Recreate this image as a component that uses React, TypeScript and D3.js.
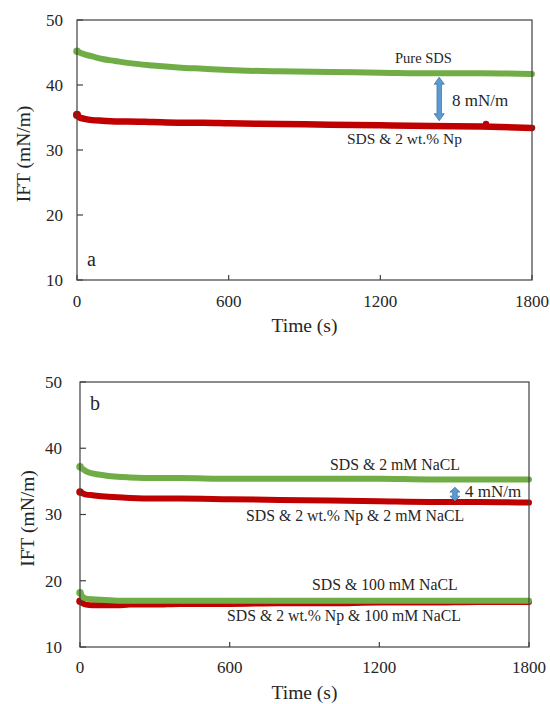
import React from "react";
import * as d3 from "d3";

// ---------- Data ----------
const xTicks = [0, 600, 1200, 1800];
const yTicks = [10, 20, 30, 40, 50];

// Panel a
const timeA = [0, 10, 30, 60, 100, 150, 200, 300, 400, 500, 600, 800, 1000, 1200, 1400, 1600, 1800];
const pureSDS = [45.2, 45.0, 44.7, 44.4, 44.0, 43.7, 43.4, 43.0, 42.7, 42.5, 42.3, 42.1, 42.0, 41.9, 41.8, 41.8, 41.7];
const sdsNp = [35.4, 35.0, 34.8, 34.6, 34.5, 34.4, 34.4, 34.3, 34.2, 34.2, 34.1, 34.0, 33.9, 33.8, 33.7, 33.6, 33.4];
const sdsNpOutlierT = [1618];
const sdsNpOutlierV = [34.0];

// Panel b
const timeB = [0, 10, 25, 50, 100, 150, 200, 300, 400, 600, 800, 1000, 1200, 1400, 1600, 1800];
const nacl2 = [37.2, 36.9, 36.5, 36.2, 35.9, 35.7, 35.6, 35.5, 35.5, 35.4, 35.4, 35.4, 35.4, 35.3, 35.3, 35.3];
const npNacl2 = [33.4, 33.2, 33.0, 32.9, 32.7, 32.6, 32.5, 32.4, 32.4, 32.3, 32.2, 32.1, 32.0, 31.9, 31.9, 31.8];
const nacl100 = [18.2, 17.6, 17.3, 17.2, 17.1, 17.0, 17.0, 17.0, 17.0, 17.0, 17.0, 17.0, 17.0, 17.0, 17.0, 17.0];
const npNacl100 = [16.9, 16.6, 16.4, 16.3, 16.3, 16.3, 16.4, 16.4, 16.5, 16.5, 16.6, 16.6, 16.7, 16.7, 16.8, 16.8];

// arrows: [time, top value, bottom value]
const arrowA = [1433, 41.2, 34.5];
const arrowB = [1503, 34.1, 32.05];

const GREEN = "#70AD47";
const RED = "#C00000";
const FONT = "Liberation Serif, Times New Roman, Tinos, DejaVu Serif, serif";
const AXIS = "#404040";

type Series = { t: number[]; v: number[]; color: string; w: number };
type Label = { text: string; x: number; y: number; size: number };

function T(props: any) {
  const { size, children, style, ...rest } = props;
  return (
    <text {...rest} fill="#262626" style={{ fontFamily: FONT, fontSize: size + "px", ...(style || {}) }}>
      {children}
    </text>
  );
}

function Panel(props: {
  x0: number; x1: number; y0: number; y1: number;
  series: Series[];
  letter: string; letterY: number;
  tickLabelY: number; yLabelRight: number; titleY: number; yTitleX: number;
  labels: Label[];
  arrow: number[];
  outliers?: { t: number[]; v: number[]; color: string };
}) {
  const { x0, x1, y0, y1 } = props;
  const xs = d3.scaleLinear().domain([0, 1800]).range([x0, x1]);
  const ys = d3.scaleLinear().domain([10, 50]).range([y1, y0]);
  const line = d3
    .line<[number, number]>()
    .x((d) => xs(d[0]))
    .y((d) => ys(d[1]))
    .curve(d3.curveMonotoneX);

  const [at, av1, av2] = props.arrow;
  const ax = xs(at);
  const ay1 = ys(av1);
  const ay2 = ys(av2);
  const len = ay2 - ay1;
  const head = Math.min(7, len * 0.35);
  const hw = 5;
  const sw = 2.2;
  const arrowPath = `M${ax},${ay1} L${ax + hw},${ay1 + head} L${ax + sw},${ay1 + head} L${ax + sw},${ay2 - head} L${ax + hw},${ay2 - head} L${ax},${ay2} L${ax - hw},${ay2 - head} L${ax - sw},${ay2 - head} L${ax - sw},${ay1 + head} L${ax - hw},${ay1 + head} Z`;

  return (
    <g>
      {props.series.map((s, i) => (
        <g key={i}>
          <path
            d={line(s.t.map((t, j) => [t, s.v[j]]) as [number, number][]) || ""}
            fill="none"
            stroke={s.color}
            strokeWidth={s.w}
            strokeLinecap="round"
            strokeLinejoin="round"
          />
          <circle cx={xs(s.t[0])} cy={ys(s.v[0])} r={s.w * 0.62} fill={s.color} />
        </g>
      ))}
      {props.outliers &&
        props.outliers.t.map((t, i) => (
          <circle key={i} cx={xs(t)} cy={ys(props.outliers!.v[i])} r={3.2} fill={props.outliers!.color} />
        ))}
      <rect x={x0} y={y0} width={x1 - x0} height={y1 - y0} fill="none" stroke={AXIS} strokeWidth={1.2} />
      {yTicks.map((t) => (
        <g key={"y" + t}>
          <line x1={x0} x2={x0 + 6} y1={ys(t)} y2={ys(t)} stroke={AXIS} strokeWidth={1.2} />
          <T x={props.yLabelRight} y={ys(t)} dy="0.34em" textAnchor="end" size={17}>
            {t}
          </T>
        </g>
      ))}
      {xTicks.map((t) => (
        <g key={"x" + t}>
          <line x1={xs(t)} x2={xs(t)} y1={y1} y2={y1 - 5} stroke={AXIS} strokeWidth={1.2} />
          <T x={xs(t)} y={props.tickLabelY} textAnchor="middle" size={17}>
            {t}
          </T>
        </g>
      ))}
      <T x={(x0 + x1) / 2} y={props.titleY} textAnchor="middle" size={19.5}>
        Time (s)
      </T>
      <T
        transform={`translate(${props.yTitleX},${(y0 + y1) / 2 + 4}) rotate(-90)`}
        textAnchor="middle"
        size={19.5}
      >
        IFT (mN/m)
      </T>
      <T x={x0 + 10} y={props.letterY} size={20}>
        {props.letter}
      </T>
      <path d={arrowPath} fill="#5B9BD5" stroke="#41719C" strokeWidth={0.8} />
      {props.labels.map((l, i) => (
        <T key={i} x={l.x} y={l.y} size={l.size}>
          {l.text}
        </T>
      ))}
    </g>
  );
}

export default function App() {
  return (
    <svg
      width={550}
      height={704}
      style={{ position: "absolute", left: 0, top: 0, background: "#fff" }}
    >
      <rect width={550} height={704} fill="#fff" />
      <Panel
        x0={77}
        x1={532}
        y0={20}
        y1={280}
        series={[
          { t: timeA, v: pureSDS, color: GREEN, w: 6 },
          { t: timeA, v: sdsNp, color: RED, w: 6.5 },
        ]}
        outliers={{ t: sdsNpOutlierT, v: sdsNpOutlierV, color: RED }}
        letter="a"
        letterY={266}
        tickLabelY={306.5}
        yLabelRight={63}
        titleY={332}
        yTitleX={30}
        arrow={arrowA}
        labels={[
          { text: "Pure SDS", x: 395, y: 63, size: 14.5 },
          { text: "8 mN/m", x: 452, y: 106, size: 17 },
          { text: "SDS & 2 wt.% Np", x: 347, y: 144, size: 15.5 },
        ]}
      />
      <Panel
        x0={80}
        x1={529}
        y0={382}
        y1={647}
        series={[
          { t: timeB, v: npNacl2, color: RED, w: 6 },
          { t: timeB, v: nacl2, color: GREEN, w: 6 },
          { t: timeB, v: npNacl100, color: RED, w: 6 },
          { t: timeB, v: nacl100, color: GREEN, w: 6 },
        ]}
        letter="b"
        letterY={410}
        tickLabelY={673}
        yLabelRight={62}
        titleY={699}
        yTitleX={34}
        arrow={arrowB}
        labels={[
          { text: "SDS & 2 mM NaCL", x: 330, y: 470, size: 15.8 },
          { text: "4 mN/m", x: 465, y: 497, size: 17 },
          { text: "SDS & 2 wt.% Np & 2 mM NaCL", x: 246, y: 521, size: 15.8 },
          { text: "SDS & 100 mM NaCL", x: 312, y: 590, size: 15.8 },
          { text: "SDS & 2 wt.% Np & 100 mM NaCL", x: 227, y: 621, size: 15.8 },
        ]}
      />
    </svg>
  );
}
